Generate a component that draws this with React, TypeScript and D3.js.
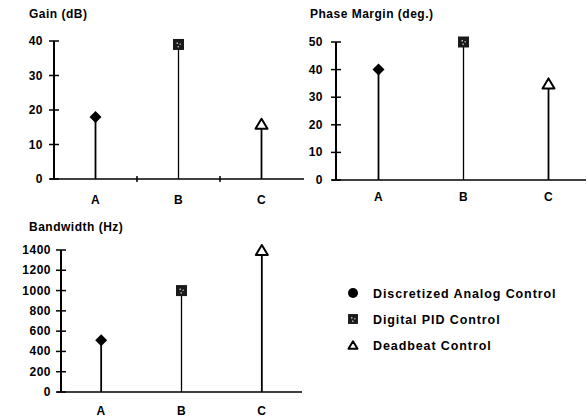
import React from "react";
import * as d3 from "d3";

const categories = ["A", "B", "C"];
const gainValues = [18, 39, 16];
const phaseValues = [40, 50, 35];
const bandwidthValues = [510, 1000, 1400];
const gainTicks = [0, 10, 20, 30, 40];
const phaseTicks = [0, 10, 20, 30, 40, 50];
const bandwidthTicks = [0, 200, 400, 600, 800, 1000, 1200, 1400];
const seriesNames = ["Discretized Analog Control", "Digital PID Control", "Deadbeat Control"];
const panelTitles = ["Gain (dB)", "Phase Margin (deg.)", "Bandwidth (Hz)"];

const FONT = "'Liberation Sans', Arial, sans-serif";

type Panel = {
  title: string;
  values: number[];
  ticks: number[];
  xRange: [number, number];
  axisEnd: number;
  yRange: [number, number];
  titleX: number;
  titleY: number;
  labelY: number;
  labelGap: number;
  midTicks: boolean;
};

const panels: Panel[] = [
  { title: panelTitles[0], values: gainValues, ticks: gainTicks, xRange: [54, 303], axisEnd: 304, yRange: [179, 41], titleX: 29, titleY: 18, labelY: 204, labelGap: 11, midTicks: true },
  { title: panelTitles[1], values: phaseValues, ticks: phaseTicks, xRange: [336, 591], axisEnd: 586, yRange: [180, 42], titleX: 310, titleY: 18, labelY: 201, labelGap: 13, midTicks: false },
  { title: panelTitles[2], values: bandwidthValues, ticks: bandwidthTicks, xRange: [61, 302], axisEnd: 302, yRange: [392, 250], titleX: 29, titleY: 231, labelY: 415, labelGap: 10, midTicks: false },
];

function Marker({ kind, x, y, scale = 1 }: { kind: number; x: number; y: number; scale?: number }) {
  if (kind === 0) {
    const s = 6 * scale;
    return <path d={`M${x},${y - s}L${x + s},${y}L${x},${y + s}L${x - s},${y}Z`} fill="#000" />;
  }
  if (kind === 1) {
    const s = 5.5 * scale;
    return (
      <g>
        <rect x={x - s} y={y - s} width={2 * s} height={2 * s} fill="#1a1a1a" />
        <rect x={x - 2} y={y - 2} width={1.5} height={1.5} fill="#bbb" />
        <rect x={x + 1} y={y - 1} width={1.5} height={1.5} fill="#999" />
        <rect x={x - 1} y={y + 1.5} width={1.5} height={1.5} fill="#aaa" />
      </g>
    );
  }
  const h = 10 * scale;
  const w = 6 * scale;
  return (
    <path
      d={`M${x},${y - h / 2}L${x + w},${y + h / 2}L${x - w},${y + h / 2}Z`}
      fill="#fff"
      stroke="#000"
      strokeWidth={2}
      strokeLinejoin="round"
    />
  );
}

function ChartPanel({ p }: { p: Panel }) {
  const x = d3.scaleBand<string>().domain(categories).range(p.xRange);
  const y = d3.scaleLinear().domain([0, p.ticks[p.ticks.length - 1]]).range(p.yRange);
  const x0 = p.xRange[0];
  const y0 = y(0);
  const textStyle = { fontFamily: FONT, fontWeight: 700, fontSize: 12, letterSpacing: 0.5 } as const;
  return (
    <g>
      <text x={p.titleX} y={p.titleY} style={textStyle}>
        {p.title}
      </text>
      <line x1={x0} x2={x0} y1={y(p.ticks[p.ticks.length - 1])} y2={y0} stroke="#000" strokeWidth={2} />
      <line x1={x0 - 4} x2={p.axisEnd} y1={y0} y2={y0} stroke="#000" strokeWidth={1.6} />
      {p.ticks.map((t) => (
        <g key={t}>
          <line x1={x0 - 5} x2={x0 + 5} y1={y(t)} y2={y(t)} stroke="#000" strokeWidth={1.5} />
          <text x={x0 - p.labelGap} y={y(t) + 4} textAnchor="end" style={textStyle}>
            {t}
          </text>
        </g>
      ))}
      {p.midTicks &&
        categories.slice(1).map((c) => (
          <line key={c} x1={x(c)!} x2={x(c)!} y1={y0 - 3} y2={y0 + 3} stroke="#000" strokeWidth={1.5} />
        ))}
      {categories.map((c, i) => {
        const cx = x(c)! + x.bandwidth() / 2;
        return (
          <g key={c}>
            <line x1={cx} x2={cx} y1={y0} y2={y(p.values[i])} stroke="#000" strokeWidth={i === 1 ? 1.3 : 1.8} />
            <Marker kind={i} x={cx} y={y(p.values[i])} />
            <text x={cx} y={p.labelY} textAnchor="middle" style={textStyle}>
              {c}
            </text>
          </g>
        );
      })}
    </g>
  );
}

const legendY = d3.scalePoint<string>().domain(seriesNames).range([293, 345]);

export default function App() {
  return (
    <svg width={588} height={417} style={{ position: "absolute", left: 0, top: 0, background: "#fff" }}>
      <rect width={588} height={417} fill="#fff" />
      {panels.map((p) => (
        <ChartPanel key={p.title} p={p} />
      ))}
      {seriesNames.map((name, i) => {
        const ly = legendY(name)!;
        return (
          <g key={name}>
            {i === 0 ? (
              <circle cx={353} cy={ly} r={5} fill="#000" />
            ) : (
              <Marker kind={i} x={353} y={ly} scale={i === 1 ? 0.9 : 0.75} />
            )}
            <text x={373} y={ly + 5} style={{ fontFamily: FONT, fontWeight: 700, fontSize: 12.5, letterSpacing: 0.9 }}>
              {name}
            </text>
          </g>
        );
      })}
    </svg>
  );
}
